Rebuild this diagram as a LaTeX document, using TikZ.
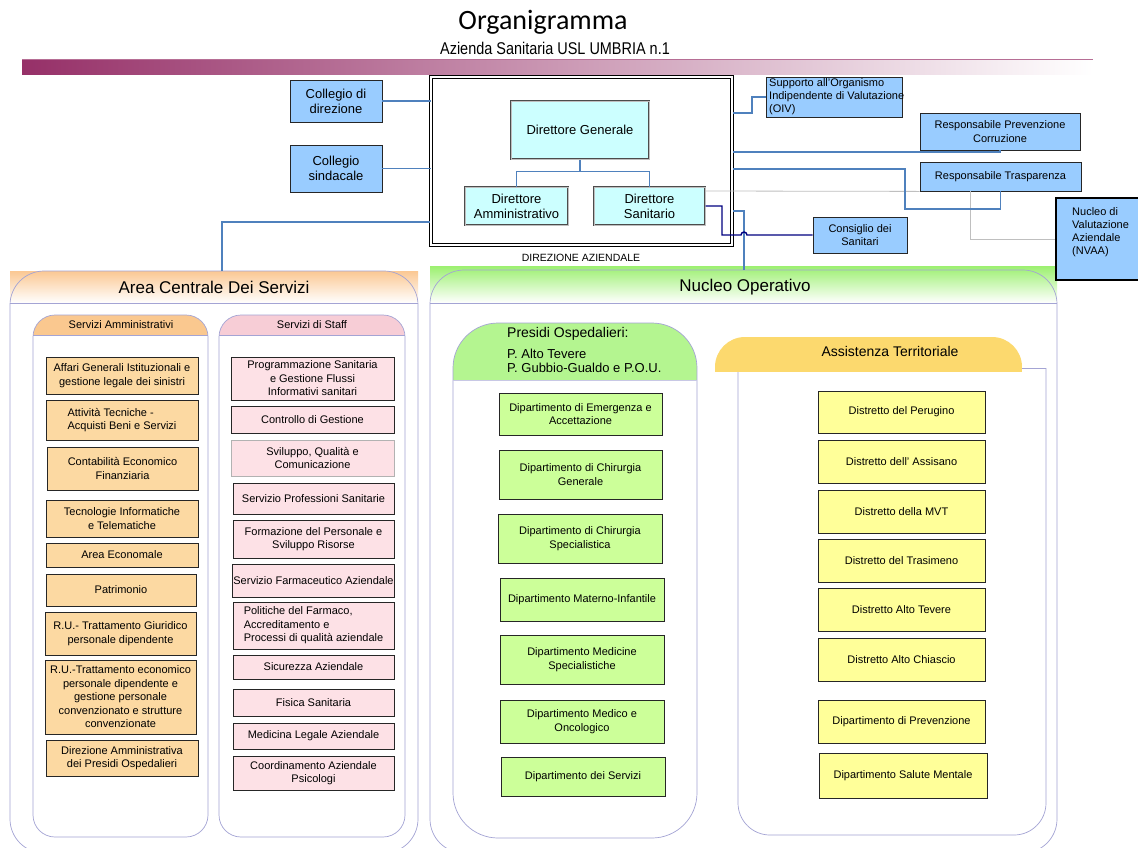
\documentclass[tikz,border=0pt]{standalone}
\usepackage{fontspec}
\setmainfont{Liberation Sans}
\newfontfamily\titlefont{Carlito}
\newfontfamily\narrowfont[FakeStretch=0.85]{Liberation Sans}
\usetikzlibrary{calc}
\newcommand{\fsz}[2]{\fontsize{#1}{#2}\selectfont}
\definecolor{bluebox}{HTML}{99CCFF}
\definecolor{cyanlt}{HTML}{CCFFFF}
\definecolor{orbox}{HTML}{FCD9A2}
\definecolor{pkbox}{HTML}{FDE1E6}
\definecolor{grbox}{HTML}{CCFF99}
\definecolor{yebox}{HTML}{FFFF99}
\definecolor{lav}{HTML}{A4A4D4}
\definecolor{connb}{HTML}{4F81BD}
\definecolor{navy}{HTML}{000080}
\definecolor{barpurple}{HTML}{963068}
\definecolor{acor}{HTML}{FBC893}
\definecolor{amhead}{HTML}{FAC88F}
\definecolor{sthead}{HTML}{F7CDD6}
\definecolor{nogreen}{HTML}{9CF070}
\definecolor{prgreen}{HTML}{B4F590}
\definecolor{ashead}{HTML}{FCD96E}
\begin{document}
\begin{tikzpicture}[x=1pt,y=-1pt,
  wh/.style 2 args={minimum width=#1pt,minimum height=#2pt},
  basebox/.style={draw=black!85, line width=0.8pt, inner sep=1pt, align=center, font=\fsz{11}{13.5}},
  bbox/.style={basebox, fill=bluebox},
  obox/.style={basebox, fill=orbox},
  pbox/.style={basebox, fill=pkbox},
  gbox/.style={basebox, fill=grbox},
  ybox/.style={basebox, fill=yebox},
  dbox/.style={draw=black!70, double=black!25, double distance=0.6pt, line width=1pt, fill=cyanlt, align=center, inner sep=1pt, font=\fsz{13}{15}},
  panel/.style={draw=lav, line width=0.7pt},
  conn/.style={draw=connb, line width=1.2pt},
  nconn/.style={draw=navy, line width=1.4pt},
  gline/.style={draw=black!25, line width=0.8pt},
  txt/.style={inner sep=0pt}
]
\useasboundingbox (0,0) rectangle (1138,847);
\fill[white] (0,0) rectangle (1138,847);
\clip (0,0) rectangle (1138,847);

% ---- title
\node[txt, font=\titlefont\fsz{28}{30}] (title) at (543,22) {Organigramma};
\node[txt, font=\narrowfont\fsz{17}{19}] (subtitle) at (555,48) {Azienda Sanitaria USL UMBRIA n.1};
\shade[left color=barpurple, right color=white] (22,59) rectangle (1093,74);
\draw[barpurple!70, line width=0.6pt] (22,59.3) -- (1093,59.3);

% ---- panels: Area Centrale
\shade[top color=acor, bottom color=white] (10,271) rectangle (418,303);
\draw[panel, rounded corners=34] (10,271) rectangle (418,853);
\draw[panel] (10,303) -- (418,303);
\node[txt, font=\fsz{17}{19}] (actitle) at (214,287) {Area Centrale Dei Servizi};

% Servizi Amministrativi
\begin{scope}
\clip[rounded corners=22] (33,315) rectangle (208,837);
\fill[amhead] (33,315) rectangle (208,335);
\end{scope}
\draw[panel, rounded corners=22] (33,315) rectangle (208,837);
\draw[panel] (33,335) -- (208,335);
\node[txt, font=\fsz{11}{13}] (amtitle) at (121,325) {Servizi Amministrativi};

% Servizi di Staff
\begin{scope}
\clip[rounded corners=22] (219,315) rectangle (405,837);
\fill[sthead] (219,315) rectangle (405,335);
\end{scope}
\draw[panel, rounded corners=22] (219,315) rectangle (405,837);
\draw[panel] (219,335) -- (405,335);
\node[txt, font=\fsz{11}{13}] (sttitle) at (312,325) {Servizi di Staff};

% Nucleo Operativo
\shade[top color=nogreen, bottom color=white] (430,266) rectangle (1057,303);
\draw[panel, rounded corners=34] (430,270) rectangle (1057,853);
\draw[panel] (430,303) -- (1057,303);
\node[txt, font=\fsz{17}{19}] (notitle) at (745,287) {Nucleo Operativo};

% Presidi Ospedalieri
\begin{scope}
\clip[rounded corners=45] (453,323) rectangle (697,838);
\fill[prgreen] (453,323) rectangle (697,380);
\end{scope}
\draw[panel, rounded corners=45] (453,323) rectangle (697,838);
\draw[panel, draw=lav!60] (453,380) -- (697,380);
\node[txt, anchor=west, font=\fsz{14}{16}] (pr1) at (507,334) {Presidi Ospedalieri:};
\node[txt, anchor=west, font=\fsz{13}{15}] (pr2) at (507,354) {P. Alto Tevere};
\node[txt, anchor=west, font=\fsz{13}{15}] (pr3) at (507,368) {P. Gubbio-Gualdo e P.O.U.};

% Assistenza Territoriale
\draw[panel, rounded corners=32] (738,372) -- (738,835) -- (1046,835) -- (1046,368);
\draw[panel] (1046,368) -- (1022,368);
\begin{scope}
\clip[rounded corners=30] (715,337) rectangle (1022,420);
\fill[ashead] (715,337) rectangle (1022,372);
\end{scope}
\node[txt, font=\fsz{14}{16}] (astitle) at (890,351) {Assistenza Territoriale};

% ---- Direzione Aziendale
\node[draw=black, line width=0.6pt, double, double distance=2.5pt, wh={301}{168}] (da) at (581.5,161) {};
\node[txt, font=\fsz{10.5}{12}] (dalabel) at (581,258) {DIREZIONE AZIENDALE};
\node[dbox, wh={138}{58}] (dg) at (580,130) {Direttore Generale};
\node[dbox, wh={103}{38}] (dam) at (516.5,206) {Direttore\\Amministrativo};
\node[dbox, wh={111}{38}] (dsan) at (649.5,206) {Direttore\\Sanitario};
\draw[conn] (dg.south) -- ++(0,12) -| (dam.north);
\draw[conn] (dg.south) ++(0,12) -| (dsan.north);

% ---- left blue boxes
\node[bbox, wh={92}{42}, font=\fsz{13}{15}] (cdir) at (336,101) {Collegio di\\direzione};
\node[bbox, wh={92}{47}, font=\fsz{13}{15}] (csind) at (336,168.5) {Collegio\\sindacale};
\draw[conn] (cdir.east) -- (cdir.east -| da.west);
\draw[conn] (csind.east) -- (csind.east -| da.west);
\coordinate (acTop) at (222,271);
\coordinate (daL) at (430,222);
\draw[conn] (acTop) |- (daL);

% ---- right boxes
\node[bbox, wh={136}{40}] (oiv) at (834,97) {};
\node[txt, anchor=west, align=left, font=\fsz{11}{13}] (oivtxt) at (769,97) {Supporto all'Organismo\\Indipendente di Valutazione\\(OIV)};
\node[bbox, wh={160}{37}] (rpc) at (1000,131.5) {Responsabile Prevenzione\\Corruzione};
\node[bbox, wh={161}{29}] (rtr) at (1000.5,176.5) {Responsabile Trasparenza};
\node[draw=black, line width=2.5pt, fill=bluebox, wh={92}{82}] (nvaa) at (1102,239) {};
\node[txt, anchor=west, align=left, font=\fsz{11}{13}] (nvaatxt) at (1072,232) {Nucleo di\\Valutazione\\Aziendale\\(NVAA)};
\node[bbox, wh={94}{36}] (cons) at (860,235) {Consiglio dei\\Sanitari};

\coordinate (daR1) at (733,113);
\coordinate (daR2) at (733,152);
\coordinate (daR3) at (733,169);
\coordinate (daR4) at (733,211);
\coordinate (noTop) at (744,270);
\coordinate (gA) at (706,191);
\coordinate (gB) at (970,191);

\draw[gline] (gA) -- (rtr.south west);
\draw[gline] (gB) |- (nvaa.west);
\draw[conn] (daR1) -- (752,113) |- (oiv.west);
\draw[conn] (daR2) -| (rpc.south);
\draw[conn] (daR3) -- (905,169) -- (905,209) -| (rtr.south);
\draw[conn] (daR4) -| (noTop);
\draw[nconn] (dsan.east) -- (722,206) -- (722,235) -- (741,235)
   arc[start angle=180, end angle=0, radius=3pt] -- (cons.west);

% ---- Servizi Amministrativi boxes
\node[obox, wh={152}{37}] (o1) at (122,375.5) {Affari Generali Istituzionali e\\gestione legale dei sinistri};
\node[obox, wh={152}{40}, align=left] (o2) at (122,420) {Attività Tecniche -\\Acquisti Beni e Servizi};
\node[obox, wh={151}{43}] (o3) at (122.5,468.5) {Contabilità Economico\\Finanziaria};
\node[obox, wh={152}{37}] (o4) at (122,518.5) {Tecnologie Informatiche\\e Telematiche};
\node[obox, wh={152}{24}] (o5) at (122,555) {Area Economale};
\node[obox, wh={150}{32}] (o6) at (121,590) {Patrimonio};
\node[obox, wh={151}{43}] (o7) at (120.5,633.5) {R.U.- Trattamento Giuridico\\personale dipendente};
\node[obox, wh={151}{74}] (o8) at (120.5,697) {R.U.-Trattamento economico\\personale dipendente e\\gestione personale\\convenzionato e strutture\\convenzionate};
\node[obox, wh={152}{36}] (o9) at (122,758) {Direzione Amministrativa\\dei Presidi Ospedalieri};

% ---- Servizi di Staff boxes
\node[pbox, wh={163}{43}] (p1) at (312.5,378.5) {Programmazione Sanitaria\\e Gestione Flussi\\Informativi sanitari};
\node[pbox, wh={163}{27}] (p2) at (312.5,419.5) {Controllo di Gestione};
\node[pbox, wh={163}{36}, draw=black!30] (p3) at (312.5,458) {Sviluppo, Qualità e\\Comunicazione};
\node[pbox, wh={161}{31}] (p4) at (313.5,498.5) {Servizio Professioni Sanitarie};
\node[pbox, wh={161}{38}] (p5) at (313.5,539) {Formazione del Personale e\\Sviluppo Risorse};
\node[pbox, wh={161}{33}] (p6) at (313.5,580.5) {Servizio Farmaceutico Aziendale};
\node[pbox, wh={161}{47}, align=left] (p7) at (313.5,625.5) {Politiche del Farmaco,\\Accreditamento e\\Processi di qualità aziendale};
\node[pbox, wh={161}{24}] (p8) at (313.5,667) {Sicurezza Aziendale};
\node[pbox, wh={161}{27}] (p9) at (313.5,702.5) {Fisica Sanitaria};
\node[pbox, wh={161}{26}] (p10) at (313.5,736) {Medicina Legale Aziendale};
\node[pbox, wh={161}{34}] (p11) at (313.5,773) {Coordinamento Aziendale\\Psicologi};

% ---- Presidi boxes
\node[gbox, wh={163}{42}] (g1) at (580.5,414) {Dipartimento di Emergenza e\\Accettazione};
\node[gbox, wh={163}{49}] (g2) at (580.5,474.5) {Dipartimento di Chirurgia\\Generale};
\node[gbox, wh={164}{49}] (g3) at (580,538.5) {Dipartimento di Chirurgia\\Specialistica};
\node[gbox, wh={164}{43}] (g4) at (582,599.5) {Dipartimento Materno-Infantile};
\node[gbox, wh={164}{49}] (g5) at (582,659.5) {Dipartimento Medicine\\Specialistiche};
\node[gbox, wh={164}{43}] (g6) at (582,721.5) {Dipartimento Medico e\\Oncologico};
\node[gbox, wh={164}{39}] (g7) at (583,776.5) {Dipartimento dei Servizi};

% ---- Assistenza boxes
\node[ybox, wh={167}{42}] (y1) at (901.5,412) {Distretto del Perugino};
\node[ybox, wh={167}{43}] (y2) at (901.5,461.5) {Distretto dell' Assisano};
\node[ybox, wh={167}{43}] (y3) at (901.5,511.5) {Distretto della MVT};
\node[ybox, wh={167}{43}] (y4) at (901.5,560.5) {Distretto del Trasimeno};
\node[ybox, wh={167}{43}] (y5) at (901.5,609.5) {Distretto Alto Tevere};
\node[ybox, wh={167}{43}] (y6) at (901.5,659.5) {Distretto Alto Chiascio};
\node[ybox, wh={167}{43}] (y7) at (901.5,721.5) {Dipartimento di Prevenzione};
\node[ybox, wh={168}{45}] (y8) at (903,775.5) {Dipartimento Salute Mentale};
\end{tikzpicture}
\end{document}
